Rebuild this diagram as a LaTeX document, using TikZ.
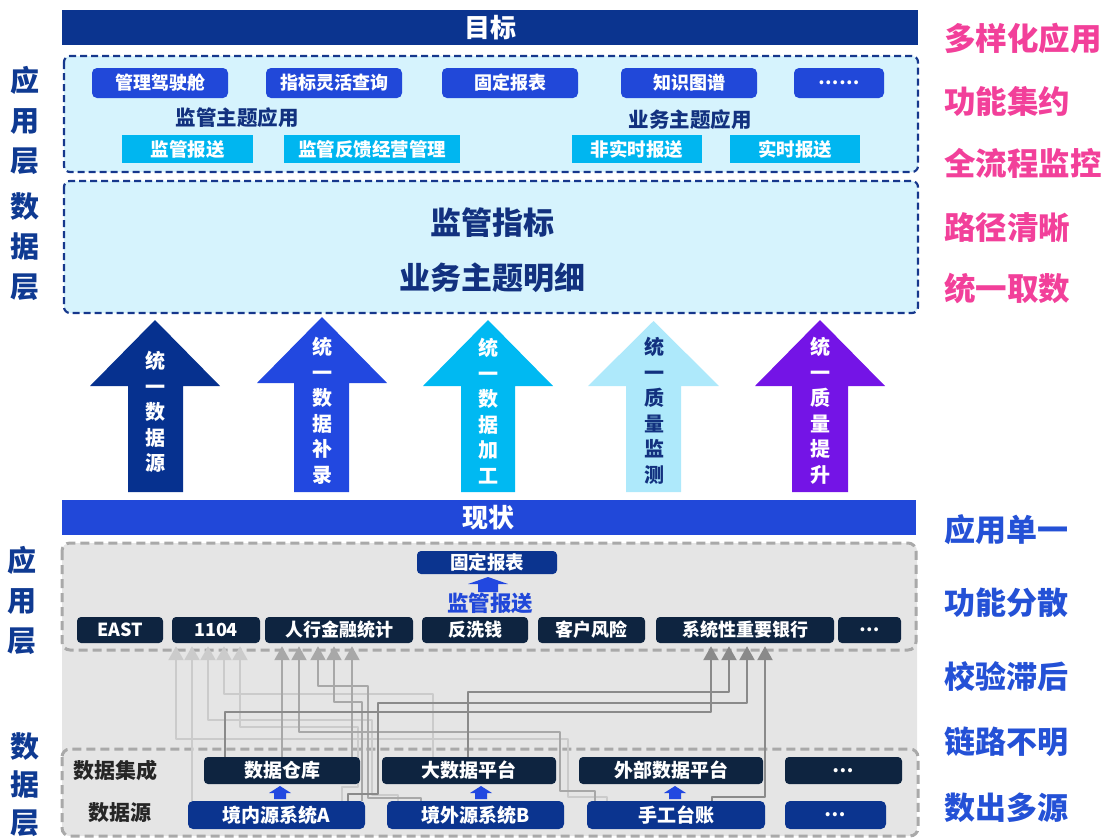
\documentclass[tikz,border=0pt]{standalone}
\usepackage{fontspec}
\setmainfont{Noto Sans CJK SC}
\usetikzlibrary{arrows.meta}
\newcommand\myfs[2]{\fontsize{#1}{#2}\selectfont}
\definecolor{cNavy}{HTML}{0B348F}
\definecolor{cBorder}{HTML}{16378C}
\definecolor{cLight}{HTML}{D6F3FD}
\definecolor{cRoyal}{HTML}{2148D9}
\definecolor{cCyan}{HTML}{00B6F0}
\definecolor{cTitle}{HTML}{12317F}
\definecolor{cLab}{HTML}{0F3A92}
\definecolor{cPink}{HTML}{F2409A}
\definecolor{cRBlue}{HTML}{2451D6}
\definecolor{cGrayFill}{HTML}{E5E5E5}
\definecolor{cGrayDash}{HTML}{A9A9A9}
\definecolor{cDark}{HTML}{0E2440}
\definecolor{cLG}{HTML}{CBCBCB}
\definecolor{cMG}{HTML}{A8A8A8}
\definecolor{cDG}{HTML}{8A8A8A}
\definecolor{cA1}{HTML}{06318F}
\definecolor{cA2}{HTML}{2248E0}
\definecolor{cA3}{HTML}{00B9F2}
\definecolor{cA4}{HTML}{AEE9FB}
\definecolor{cA5}{HTML}{7414E6}
\begin{document}
\begin{tikzpicture}[x=1pt,y=-1pt,
  barnode/.style={text=white, font=\myfs{26}{30}\bfseries, inner sep=0pt},
  btn/.style={fill=cRoyal, rounded corners=5pt, text=white, font=\myfs{18}{20}\bfseries, inner sep=0pt, minimum height=30pt},
  cbox/.style={fill=cCyan, text=white, font=\myfs{18.5}{20}\bfseries, inner sep=0pt, minimum height=28pt},
  dbox/.style={fill=cDark, rounded corners=4pt, text=white, font=\myfs{18}{20}\bfseries, inner sep=0pt, minimum height=26pt},
  ibox/.style={fill=cDark, rounded corners=4pt, text=white, font=\myfs{19}{20}\bfseries, inner sep=0pt, minimum height=27pt},
  nbox/.style={fill=cNavy, rounded corners=5pt, text=white, font=\myfs{19}{20}\bfseries, inner sep=0pt, minimum height=28pt},
  ttl/.style={text=cTitle, font=\myfs{20.5}{24}\bfseries, inner sep=0pt},
  bigt/.style={text=cTitle, font=\myfs{31}{34}\bfseries, inner sep=0pt},
  sidelab/.style={text=cLab, font=\myfs{29}{40}\bfseries, align=center, inner sep=0pt},
  pinklab/.style={text=cPink, font=\myfs{31.5}{34}\bfseries, anchor=west, inner sep=0pt},
  bluelab/.style={text=cRBlue, font=\myfs{31}{34}\bfseries, anchor=west, inner sep=0pt},
  blacklab/.style={text=black!85, font=\myfs{21}{24}\bfseries, inner sep=0pt},
  arrtxt/.style={font=\myfs{20}{25.5}\bfseries, align=center, inner sep=0pt},
  navydash/.style={draw=cBorder, line width=2.2pt, dash pattern=on 7pt off 4pt, fill=cLight, rounded corners=6pt},
  graydash/.style={draw=cGrayDash, line width=3pt, dash pattern=on 9pt off 5pt, rounded corners=8pt},
  lc/.style={draw=cLG, line width=2pt, line join=round, shorten >=3pt, -{Triangle[width=15pt,length=14pt]}},
  mc/.style={draw=cMG, line width=2pt, line join=round, shorten >=3pt, -{Triangle[width=15pt,length=14pt]}},
  dc/.style={draw=cDG, line width=2.4pt, line join=round, shorten >=3pt, -{Triangle[width=15pt,length=14pt]}}
]
\useasboundingbox (0,0) rectangle (1104,839);

% ---------- top part ----------
\fill[cNavy] (62,10) rectangle (918,45);
\node[barnode] (goal) at (490,27.5) {目标};

\path[navydash] (64,56) rectangle (918,172);
\path[navydash] (64,181) rectangle (918,313);

\node[btn, minimum width=136pt] (b1) at (160,83) {管理驾驶舱};
\node[btn, minimum width=136pt] (b2) at (334,83) {指标灵活查询};
\node[btn, minimum width=136pt] (b3) at (510,83) {固定报表};
\node[btn, minimum width=136pt] (b4) at (689,83) {知识图谱};
\node[btn, minimum width=90pt] (b5) at (839,83) {……};

\node[ttl] (t1) at (237,118) {监管主题应用};
\node[ttl] (t2) at (690,120) {业务主题应用};

\node[cbox, minimum width=131pt] (c1) at (187.5,149) {监管报送};
\node[cbox, minimum width=176pt] (c2) at (372,149) {监管反馈经营管理};
\node[cbox, minimum width=130pt] (c3) at (637,149) {非实时报送};
\node[cbox, minimum width=130pt] (c4) at (795,149) {实时报送};

\node[bigt] (m1) at (492,223) {监管指标};
\node[bigt] (m2) at (492,278) {业务主题明细};

% side labels top
\node[sidelab] (l1) at (25,120) {应\\用\\层};
\node[sidelab] (l2) at (25,247) {数\\据\\层};
\node[pinklab] (p1) at (944,38) {多样化应用};
\node[pinklab] (p2) at (944,101) {功能集约};
\node[pinklab] (p3) at (944,163) {全流程监控};
\node[pinklab] (p4) at (944,228) {路径清晰};
\node[pinklab] (p5) at (944,288) {统一取数};

% ---------- big arrows ----------
\fill[cA1] (155,320) -- (220,386) -- (183,386) -- (183,492) -- (128,492) -- (128,386) -- (90,386) -- cycle;
\fill[cA2] (322,317) -- (387,383) -- (349,383) -- (349,492) -- (294,492) -- (294,383) -- (257,383) -- cycle;
\fill[cA3] (488,320) -- (553,386) -- (515,386) -- (515,492) -- (461,492) -- (461,386) -- (423,386) -- cycle;
\fill[cA4] (653.5,321) -- (719,386) -- (681,386) -- (681,492) -- (626,492) -- (626,386) -- (588,386) -- cycle;
\fill[cA5] (820,320) -- (885,386) -- (848,386) -- (848,492) -- (792,492) -- (792,386) -- (755,386) -- cycle;
\node[arrtxt, text=white] (at1) at (155,412) {统\\一\\数\\据\\源};
\node[arrtxt, text=white] (at2) at (322,411) {统\\一\\数\\据\\补\\录};
\node[arrtxt, text=white] (at3) at (488,411) {统\\一\\数\\据\\加\\工};
\node[arrtxt, text=cTitle] (at4) at (654,411) {统\\一\\质\\量\\监\\测};
\node[arrtxt, text=white] (at5) at (820,411) {统\\一\\质\\量\\提\\升};

% ---------- current state ----------
\fill[cRoyal] (62,500) rectangle (916,535);
\node[barnode] (now) at (488,517.5) {现状};

\fill[cGrayFill, rounded corners=8pt] (62,543) rectangle (917,836);
\path[graydash] (62,543) rectangle (916,650);
\path[graydash] (62,749) rectangle (918,836);

\node[sidelab] (l3) at (22,600) {应\\用\\层};
\node[sidelab, font=\myfs{29}{38}\bfseries] (l4) at (25,785) {数\\据\\层};
\node[bluelab] (q1) at (944,530) {应用单一};
\node[bluelab] (q2) at (944,603) {功能分散};
\node[bluelab] (q3) at (944,677) {校验滞后};
\node[bluelab] (q4) at (944,742) {链路不明};
\node[bluelab] (q5) at (944,808) {数出多源};

\node[nbox, minimum width=140pt, minimum height=23pt, rounded corners=4pt, font=\myfs{18.5}{20}\bfseries] (fr) at (487,562.5) {固定报表};
\fill[cA2] (488,577) -- (508,584) -- (498,584) -- (498,592) -- (478,592) -- (478,584) -- (468,584) -- cycle;
\node[text=cRoyal, font=\myfs{21.5}{24}\bfseries, inner sep=0pt] (jg) at (490,603) {监管报送};

% ---------- application row ----------
\node[dbox, minimum width=86pt] (rEAST) at (120,630) {EAST};
\node[dbox, minimum width=88pt] (r1104) at (216,630) {1104};
\node[dbox, minimum width=148pt] (rPBOC) at (339,630) {人行金融统计};
\node[dbox, minimum width=106pt] (rAML) at (475,630) {反洗钱};
\node[dbox, minimum width=107pt] (rCR) at (591.5,630) {客户风险};
\node[dbox, minimum width=178pt] (rSIB) at (745,630) {系统性重要银行};
\node[dbox, minimum width=63pt] (rMore) at (869.5,630) {…};

\node[blacklab] (ji) at (115,770) {数据集成};
\node[blacklab] (ys) at (120,813) {数据源};

% ---------- connectors ----------
% light group -> 1104
\draw[lc] (192,801) -- (192,0 |- r1104.south);
\draw[lc] (607,801) -- (607,797) -- (568,797) -- (568,739) -- (176,739) -- (176,0 |- r1104.south);
\draw[lc] (398,801) -- (398,795) -- (372,795) -- (372,720) -- (208,720) -- (208,0 |- r1104.south);
\draw[lc] (433,757) -- (433,694) -- (224,694) -- (224,0 |- r1104.south);
\draw[lc] (342,801) -- (342,787) -- (358,787) -- (358,727) -- (240,727) -- (240,0 |- r1104.south);
% medium group -> 人行金融统计
\draw[mc] (282,757) -- (282,0 |- rPBOC.south);
\draw[mc] (595,801) -- (595,791) -- (560,791) -- (560,732) -- (299,732) -- (299,0 |- rPBOC.south);
\draw[mc] (421,801) -- (421,798) -- (368,798) -- (368,686) -- (318,686) -- (318,0 |- rPBOC.south);
\draw[mc] (362,801) -- (362,702) -- (334,702) -- (334,0 |- rPBOC.south);
\draw[mc] (352,757) -- (352,0 |- rPBOC.south);
% dark group -> 系统性重要银行
\draw[dc] (225,757) -- (225,712) -- (711,712) -- (711,0 |- rSIB.south);
\draw[dc] (468,757) -- (468,692) -- (729,692) -- (729,0 |- rSIB.south);
\draw[dc] (348,801) -- (348,794) -- (378,794) -- (378,703) -- (747,703) -- (747,0 |- rSIB.south);
\draw[dc] (712,801) -- (712,797) -- (765,797) -- (765,0 |- rSIB.south);

% ---------- data rows ----------
\node[ibox, minimum width=156pt] (DW) at (282,770.5) {数据仓库};
\node[ibox, minimum width=174pt] (DP) at (469,770.5) {大数据平台};
\node[ibox, minimum width=184pt] (EX) at (671,770.5) {外部数据平台};
\node[ibox, minimum width=117pt] (IM) at (843.5,770.5) {…};

\node[nbox, minimum width=177pt] (A) at (276.5,815) {境内源系统A};
\node[nbox, minimum width=177pt] (B) at (475.5,815) {境外源系统B};
\node[nbox, minimum width=178pt] (SM) at (676,815) {手工台账};
\node[nbox, minimum width=101pt] (SX) at (835.5,815) {…};

% small blue arrows
\foreach \x in {280,481,675}{
  \fill[cA2] (\x,786) -- (\x+11,793) -- (\x+6,793) -- (\x+6,799) -- (\x-6,799) -- (\x-6,793) -- (\x-11,793) -- cycle;
}
\end{tikzpicture}
\end{document}
